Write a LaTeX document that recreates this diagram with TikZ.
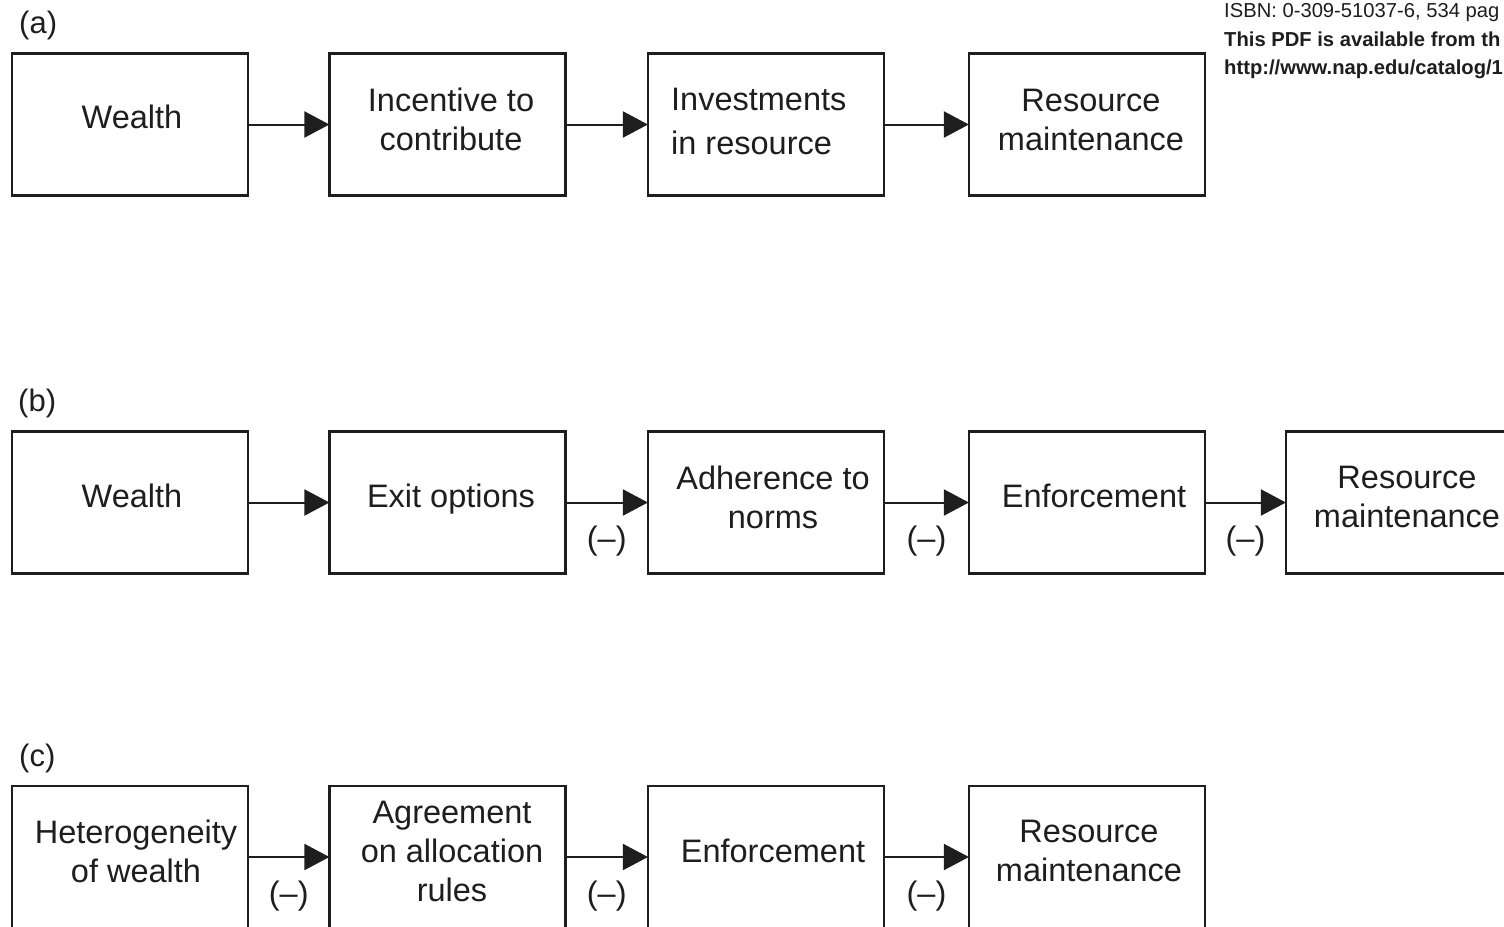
\documentclass[tikz,border=0pt]{standalone}
\usepackage{fontspec}
\setmainfont{Liberation Sans}
\usetikzlibrary{arrows.meta}
\definecolor{ink}{HTML}{1E1E1E}
\tikzset{
  box/.style={draw=ink, line width=2.2pt, minimum width=236pt, minimum height=142pt, inner sep=0pt},
  txt/.style={text=ink, font=\fontsize{32.5}{39}\selectfont, align=center, inner sep=0pt},
  tag/.style={text=ink, font=\fontsize{31}{34}\selectfont, inner sep=0pt, anchor=west},
  arr/.style={draw=ink, line width=2pt, -{Triangle[length=25pt, width=26pt]}, shorten >=-1pt},
  neg/.style={text=ink, font=\fontsize{32.5}{36}\selectfont, inner sep=0pt, yshift=-39pt},
  hdr/.style={text=ink, font=\fontsize{20.2}{24}\selectfont, inner sep=0pt, anchor=base west},
  hdrb/.style={hdr, font=\fontsize{20.2}{24}\selectfont\bfseries}
}
\begin{document}
\begin{tikzpicture}[x=1pt, y=-1pt]
\clip (0,0) rectangle (1504,926);
\fill[white] (0,0) rectangle (1504,926);

% header lines at the top right
\node[hdr] (h1) at (1224,17) {ISBN: 0-309-51037-6, 534 pag};
\node[hdrb] (h2) at (1224,46.5) {This PDF is available from th};
\node[hdrb] (h3) at (1224,74.5) {http://www.nap.edu/catalog/1};

% panel (a)
\node[tag] (ta) at (19,25) {(a)};
\node[box] (a1) at (130,124.5) {};
\node[box] (a2) at (447.5,124.5) {};
\node[box] (a3) at (766,124.5) {};
\node[box] (a4) at (1087,124.5) {};
\node[txt] (a1t) at (132,117) {Wealth};
\node[txt] (a2t) at (451,119) {Incentive to\\contribute};
\node[txt, align=left, anchor=west, font=\fontsize{32.5}{44}\selectfont] (a3t) at (671,121) {Investments\\in resource};
\node[txt] (a4t) at (1091,120) {Resource\\maintenance};
\draw[arr] (a1) -- (a2);
\draw[arr] (a2) -- (a3);
\draw[arr] (a3) -- (a4);

% panel (b)
\node[tag] (tb) at (18,403) {(b)};
\node[box] (b1) at (130,502.5) {};
\node[box] (b2) at (447.5,502.5) {};
\node[box] (b3) at (766,502.5) {};
\node[box] (b4) at (1087,502.5) {};
\node[box] (b5) at (1404,502.5) {};
\node[txt] (b1t) at (132,496) {Wealth};
\node[txt] (b2t) at (451,499) {Exit options};
\node[txt] (b3t) at (773,497) {Adherence to\\norms};
\node[txt] (b4t) at (1094,496) {Enforcement};
\node[txt] (b5t) at (1407,497) {Resource\\maintenance};
\draw[arr] (b1) -- (b2);
\draw[arr] (b2) -- node[neg] {(–)} (b3);
\draw[arr] (b3) -- node[neg] {(–)} (b4);
\draw[arr] (b4) -- node[neg] {(–)} (b5);

% panel (c)
\node[tag] (tc) at (19,758) {(c)};
\node[box] (c1) at (130,857) {};
\node[box] (c2) at (447.5,857) {};
\node[box] (c3) at (766,857) {};
\node[box] (c4) at (1087,857) {};
\node[txt] (c1t) at (136,851) {Heterogeneity\\of wealth};
\node[txt] (c2t) at (452,851) {Agreement\\on allocation\\rules};
\node[txt] (c3t) at (773,851) {Enforcement};
\node[txt] (c4t) at (1089,851) {Resource\\maintenance};
\draw[arr] (c1) -- node[neg] {(–)} (c2);
\draw[arr] (c2) -- node[neg] {(–)} (c3);
\draw[arr] (c3) -- node[neg] {(–)} (c4);
\end{tikzpicture}
\end{document}
